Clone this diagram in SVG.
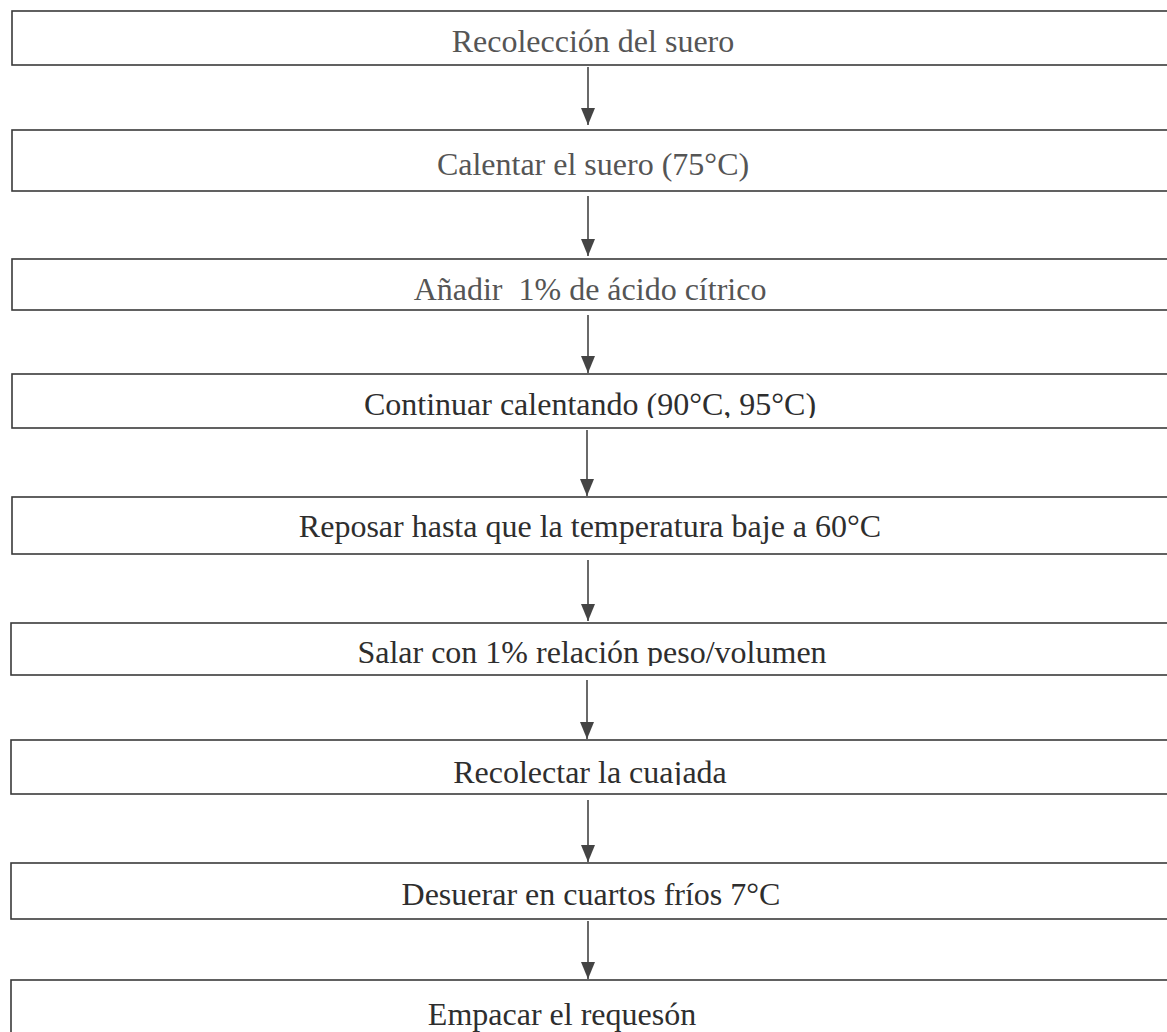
<svg xmlns="http://www.w3.org/2000/svg" width="1167" height="1032" viewBox="0 0 1167 1032">
<style>
.box{fill:#fff;stroke:#3a3a3a;stroke-width:1.6}
.lbl{font-family:"Liberation Serif","Times New Roman",serif;font-size:32px;text-anchor:middle}
.g{fill:#555}
.d{fill:#2e2e2e}
.con{stroke:#444;stroke-width:1.6;fill:none}
</style>
<defs>
<marker id="ahd" markerUnits="userSpaceOnUse" markerWidth="18" markerHeight="14" refX="17" refY="7" orient="auto" viewBox="0 0 18 14">
<path d="M0,0 L17,7 L0,14 Z" fill="#444"/>
</marker>
<clipPath id="c4"><rect x="0" y="374" width="1167" height="44"/></clipPath>
<clipPath id="c6"><rect x="0" y="623" width="1167" height="43"/></clipPath>
<clipPath id="c7"><rect x="0" y="740" width="1167" height="45"/></clipPath>
</defs>
<rect width="1167" height="1032" fill="#fff"/>
<g id="connectors">
<path class="con" d="M588,67 V125" marker-end="url(#ahd)"/>
<path class="con" d="M588,196 V256" marker-end="url(#ahd)"/>
<path class="con" d="M588,315 V373" marker-end="url(#ahd)"/>
<path class="con" d="M587,430 V496" marker-end="url(#ahd)"/>
<path class="con" d="M588,560 V621" marker-end="url(#ahd)"/>
<path class="con" d="M587,680 V739" marker-end="url(#ahd)"/>
<path class="con" d="M588,800 V862" marker-end="url(#ahd)"/>
<path class="con" d="M588,921 V979" marker-end="url(#ahd)"/>
</g>
<g id="n1"><rect class="box" x="12" y="11" width="1170" height="54"/><text class="lbl g" x="593" y="52">Recolección del suero</text></g>
<g id="n2"><rect class="box" x="12" y="130" width="1170" height="61"/><text class="lbl g" x="593" y="175">Calentar el suero (75°C)</text></g>
<g id="n3"><rect class="box" x="12" y="259" width="1170" height="51"/><text class="lbl g" x="590" y="300" xml:space="preserve">Añadir  1% de ácido cítrico</text></g>
<g id="n4"><rect class="box" x="12" y="374" width="1170" height="54"/><text class="lbl d" x="590" y="415" clip-path="url(#c4)">Continuar calentando (90°C, 95°C)</text></g>
<g id="n5"><rect class="box" x="12" y="497" width="1170" height="57"/><text class="lbl d" x="590" y="537">Reposar hasta que la temperatura baje a 60°C</text></g>
<g id="n6"><rect class="box" x="11" y="623" width="1170" height="52"/><text class="lbl d" x="592" y="663" clip-path="url(#c6)">Salar con 1% relación peso/volumen</text></g>
<g id="n7"><rect class="box" x="11" y="740" width="1170" height="54"/><text class="lbl d" x="590" y="783" clip-path="url(#c7)">Recolectar la cuajada</text></g>
<g id="n8"><rect class="box" x="11" y="863" width="1170" height="56"/><text class="lbl d" x="591" y="905">Desuerar en cuartos fríos 7°C</text></g>
<g id="n9"><rect class="box" x="11" y="980" width="1170" height="70"/><text class="lbl d" x="562" y="1025">Empacar el requesón</text></g>
</svg>
